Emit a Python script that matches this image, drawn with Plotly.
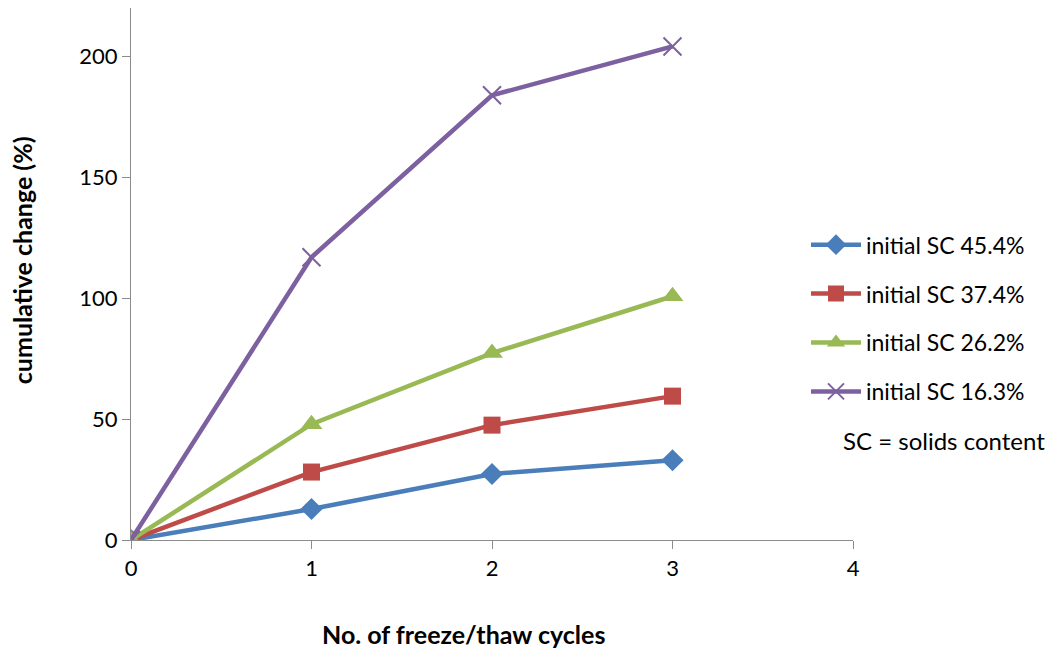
import plotly.graph_objects as go

cycles = [0, 1, 2, 3]
names = ["initial SC 45.4%", "initial SC 37.4%", "initial SC 26.2%", "initial SC 16.3%"]
sc454 = [0, 12.8, 27.3, 33.0]
sc374 = [0, 28.1, 47.5, 59.5]
sc262 = [0, 47.9, 77.3, 100.8]
sc163 = [0, 116.9, 183.9, 204.1]
x_ticks = [0, 1, 2, 3, 4]
y_ticks = [0, 50, 100, 150, 200]

series = [sc454, sc374, sc262, sc163]
colors = ["#4A7EBB", "#BE4B48", "#98B954", "#7D60A0"]
symbols = ["diamond", "square", "triangle-up", "x-thin-open"]
sizes = [17, 17, 19, 18]

FONT = "Lato, 'Open Sans', sans-serif"

fig = go.Figure()
for i, (nm, ys) in enumerate(zip(names, series)):
    mk = dict(symbol=symbols[i], size=sizes[i], color=colors[i])
    if symbols[i] == "x-thin-open":
        mk["line"] = dict(color=colors[i], width=2)
    fig.add_trace(go.Scatter(
        x=cycles, y=ys, name=nm, mode="lines+markers",
        line=dict(color=colors[i], width=4.5),
        marker=mk, legendgroup=f"g{i}",
    ))

axis_common = dict(
    showgrid=False, zeroline=False, showline=True, linecolor="#8C8C8C",
    linewidth=1.3, ticks="outside", ticklen=8, tickcolor="#8C8C8C",
    tickfont=dict(family=FONT, size=22, color="#000"),
)
fig.update_xaxes(range=[0, 4], tickvals=x_ticks, **axis_common)
fig.update_yaxes(range=[0, 220], tickvals=y_ticks, **axis_common)

fig.update_layout(
    width=1055, height=649,
    margin=dict(l=131, r=202, t=8, b=109),
    paper_bgcolor="white", plot_bgcolor="white",
    font=dict(family=FONT, color="#000"),
    showlegend=True,
    legend=dict(x=(806 - 853) / 722 + 1.0, xanchor="left", y=(540 - 223) / 532.4, yanchor="top",
                font=dict(family=FONT, size=23), tracegroupgap=16,
                bgcolor="rgba(0,0,0,0)", itemwidth=50),
    annotations=[
        dict(text="<b>No. of freeze/thaw cycles</b>", xref="paper", yref="paper",
             x=(463 - 131) / 722, y=-(634 - 540) / 532.4, xanchor="center", yanchor="middle",
             showarrow=False, font=dict(family=FONT, size=25)),
        dict(text="<b>cumulative change (%)</b>", xref="paper", yref="paper",
             x=-(131 - 22) / 722, y=(540 - 260) / 532.4, xanchor="center", yanchor="middle", textangle=-90,
             showarrow=False, font=dict(family=FONT, size=25)),
        dict(text="SC = solids content", xref="paper", yref="paper",
             x=1.0 + (841 - 853) / 722, y=(540 - 440) / 532.4, xanchor="left",
             yanchor="middle", showarrow=False, font=dict(family=FONT, size=24)),
    ],
)

fig.write_html("out.html")
